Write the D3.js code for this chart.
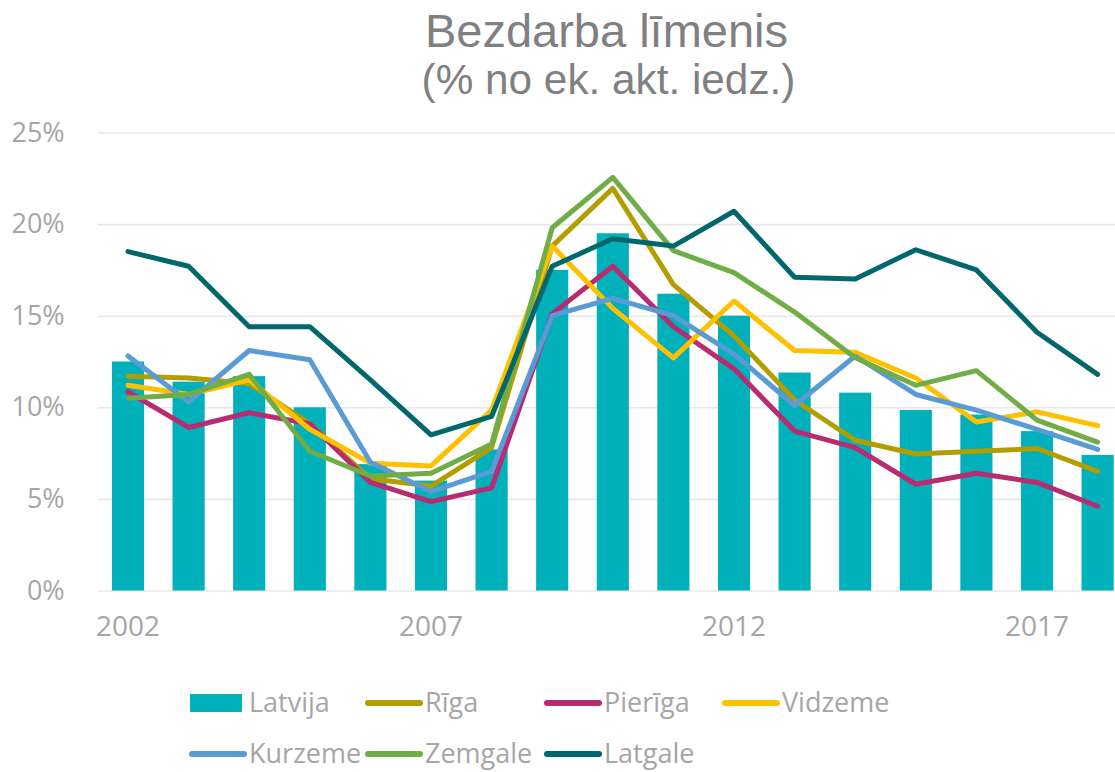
<!DOCTYPE html>
<html>
<head>
<meta charset="utf-8">
<script src="https://cdn.jsdelivr.net/npm/d3@7"></script>
<style>
  body { margin: 0; background: #fff; }
  text { font-family: "Open Sans", "Noto Sans", sans-serif; }
  .title { font-family: "Liberation Sans", Arial, sans-serif; }
</style>
</head>
<body>
<div id="chart"></div>
<script>
let width = 1115,
    height = 772

let margin = {
    top: 132.5,
    left: 97.7,
    bottom: 181.5
}

// data
let years = ["2002", "2003", "2004", "2005", "2006", "2007", "2008", "2009", "2010",
    "2011", "2012", "2013", "2014", "2015", "2016", "2017", "2018"]
let yearLabels = ["2002", "2007", "2012", "2017"]
let yTicks = [0, 5, 10, 15, 20, 25]

let latvija = [12.5, 11.4, 11.7, 10.0, 6.9, 6.0, 7.7, 17.5, 19.5, 16.2, 15.0, 11.9, 10.8, 9.85, 9.6, 8.7, 7.4]
let riga = [11.7, 11.6, 11.3, 9.1, 6.1, 5.7, 7.8, 18.8, 21.95, 16.7, 13.9, 10.4, 8.2, 7.45, 7.6, 7.75, 6.5]
let pieriga = [10.85, 8.9, 9.7, 9.1, 5.9, 4.85, 5.6, 15.1, 17.7, 14.4, 12.1, 8.7, 7.8, 5.8, 6.4, 5.9, 4.6]
let vidzeme = [11.2, 10.7, 11.5, 8.8, 6.95, 6.8, 9.85, 18.8, 15.4, 12.7, 15.8, 13.1, 13.0, 11.6, 9.2, 9.75, 9.0]
let kurzeme = [12.8, 10.3, 13.1, 12.6, 7.0, 5.4, 6.5, 15.0, 15.95, 15.0, 12.9, 10.1, 12.8, 10.7, 9.85, 8.8, 7.7]
let zemgale = [10.5, 10.7, 11.8, 7.6, 6.25, 6.4, 8.0, 19.8, 22.55, 18.55, 17.35, 15.2, 12.7, 11.2, 12.0, 9.3, 8.1]
let latgale = [18.5, 17.7, 14.4, 14.4, 11.5, 8.5, 9.5, 17.7, 19.2, 18.8, 20.7, 17.1, 17.0, 18.6, 17.5, 14.1, 11.8]

let lineSeries = [
    { name: "Rīga", values: riga, color: "#B29E00" },
    { name: "Pierīga", values: pieriga, color: "#B82B70" },
    { name: "Vidzeme", values: vidzeme, color: "#FFC000" },
    { name: "Kurzeme", values: kurzeme, color: "#5B9BD5" },
    { name: "Zemgale", values: zemgale, color: "#70AD47" },
    { name: "Latgale", values: latgale, color: "#00686C" }
]
let barColor = "#00B0BA"
let textGrey = "#a6a6a6"

let h = height - margin.bottom

let xScale = d3.scaleBand()
    .domain(years)
    .range([margin.left, margin.left + 60.6 * years.length])
    .paddingInner(0.47)
    .paddingOuter(0.235)

let yScale = d3.scaleLinear()
    .domain([0, 25])
    .range([h, margin.top])

let svg = d3.select("#chart")
    .append("svg")
    .attr("width", width)
    .attr("height", height)

// gridlines + y labels
let yAxis = d3.axisLeft(yScale)
    .tickValues(yTicks)
    .tickSize(-(width - margin.left + 20))
    .tickFormat(d => d + "%")
    .tickPadding(33)

let gy = svg.append("g")
    .attr("transform", "translate(" + margin.left + ",0)")
    .call(yAxis)
gy.select(".domain").remove()
gy.selectAll("line").attr("stroke", "#e8e8e8").attr("stroke-width", 1.6)
gy.selectAll("text")
    .attr("fill", textGrey)
    .attr("font-size", 27)
    .attr("text-anchor", "end")

// x labels
let xAxis = d3.axisBottom(xScale)
    .tickValues(yearLabels)
    .tickSize(0)
    .tickPadding(26)

let gx = svg.append("g")
    .attr("transform", "translate(0," + h + ")")
    .call(xAxis)
gx.select(".domain").remove()
gx.selectAll("text")
    .attr("fill", textGrey)
    .attr("font-size", 28)

// bars
svg.append("g")
    .selectAll("rect")
    .data(latvija)
    .enter()
    .append("rect")
    .attr("x", (d, i) => xScale(years[i]))
    .attr("y", d => yScale(d))
    .attr("width", xScale.bandwidth())
    .attr("height", d => yScale(0) - yScale(d))
    .attr("fill", barColor)

// lines
let line = d3.line()
    .x((d, i) => xScale(years[i]) + xScale.bandwidth() / 2)
    .y(d => yScale(d))

svg.append("g")
    .selectAll("path")
    .data(lineSeries)
    .enter()
    .append("path")
    .attr("d", d => line(d.values))
    .attr("fill", "none")
    .attr("stroke", d => d.color)
    .attr("stroke-width", 5)
    .attr("stroke-linejoin", "round")
    .attr("stroke-linecap", "round")

// title
svg.append("text")
    .attr("class", "title")
    .attr("x", 606.5)
    .attr("y", 47)
    .attr("text-anchor", "middle")
    .attr("font-size", 47)
    .attr("fill", "#808080")
    .text("Bezdarba līmenis")

svg.append("text")
    .attr("class", "title")
    .attr("x", 608.5)
    .attr("y", 94)
    .attr("text-anchor", "middle")
    .attr("font-size", 42.3)
    .attr("fill", "#808080")
    .text("(% no ek. akt. iedz.)")

// legend (second row nudged up a little so descenders stay on the page)
let legendItems = [{ name: "Latvija", color: barColor, bar: true }].concat(lineSeries)
let colX = [190, 366, 545, 723]
let rowY = [703, 754]

let legend = svg.append("g")
    .selectAll("g")
    .data(legendItems)
    .enter()
    .append("g")
    .attr("transform", (d, i) => "translate(" + colX[i % 4] + "," + rowY[Math.floor(i / 4)] + ")")

legend.filter(d => d.bar)
    .append("rect")
    .attr("x", 0)
    .attr("y", -9)
    .attr("width", 52)
    .attr("height", 18)
    .attr("fill", d => d.color)

legend.filter(d => !d.bar)
    .append("line")
    .attr("x1", 2)
    .attr("x2", 54)
    .attr("stroke", d => d.color)
    .attr("stroke-width", 6)
    .attr("stroke-linecap", "round")

legend.append("text")
    .attr("x", 59)
    .attr("y", 9)
    .attr("font-size", 27)
    .attr("fill", textGrey)
    .text(d => d.name)
</script>
</body>
</html>
